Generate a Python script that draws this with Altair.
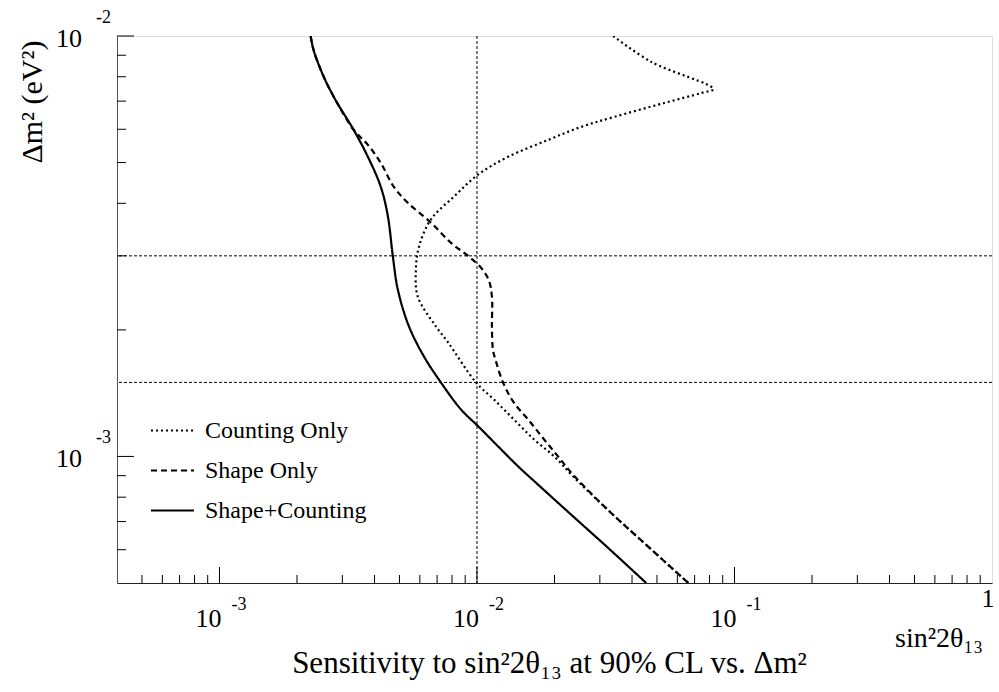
import altair as alt
import pandas as pd

# ---------------- data ----------------
series_names = ["Counting Only", "Shape Only", "Shape+Counting"]

count_x = [3.38e-2, 4.75e-2, 8.28e-2, 7.44e-2, 5.34e-2, 3.41e-2, 2.54e-2, 1.89e-2,
           1.32e-2, 1.01e-2, 8.14e-3, 6.62e-3, 5.95e-3, 5.79e-3, 5.89e-3, 6.92e-3,
           7.71e-3, 9.91e-3, 1.165e-2, 1.39e-2, 1.667e-2, 1.995e-2, 2.38e-2, 3.24e-2,
           4.35e-2, 6.62e-2]
count_y = [1.0e-2, 8.68e-3, 7.48e-3, 7.32e-3, 6.93e-3, 6.42e-3, 6.08e-3, 5.66e-3,
           5.16e-3, 4.68e-3, 4.15e-3, 3.66e-3, 3.15e-3, 2.78e-3, 2.40e-3, 2.04e-3,
           1.87e-3, 1.5e-3, 1.365e-3, 1.225e-3, 1.097e-3, 1.0e-3, 8.92e-4, 7.44e-4,
           6.31e-4, 5.0e-4]

shape_x = [2.26e-3, 2.32e-3, 2.54e-3, 2.82e-3, 3.32e-3, 3.77e-3, 4.23e-3, 4.75e-3,
           5.39e-3, 6.62e-3, 7.93e-3, 9.23e-3, 1.037e-2, 1.11e-2, 1.143e-2, 1.143e-2,
           1.154e-2, 1.186e-2, 1.262e-2, 1.39e-2, 1.579e-2, 1.823e-2, 2.065e-2, 2.38e-2,
           3.24e-2, 4.35e-2, 6.62e-2]
shape_y = [1.0e-2, 9.26e-3, 8.0e-3, 7.05e-3, 5.98e-3, 5.51e-3, 4.99e-3, 4.38e-3,
           4.01e-3, 3.60e-3, 3.22e-3, 3.0e-3, 2.81e-3, 2.63e-3, 2.40e-3, 2.04e-3,
           1.79e-3, 1.68e-3, 1.5e-3, 1.343e-3, 1.225e-3, 1.097e-3, 1.0e-3, 9.0e-4,
           7.44e-4, 6.31e-4, 5.0e-4]

both_x = [2.26e-3, 2.32e-3, 2.54e-3, 2.82e-3, 3.32e-3, 3.77e-3, 4.23e-3, 4.51e-3,
          4.71e-3, 4.93e-3, 5.44e-3, 6.22e-3, 7.24e-3, 8.66e-3, 1.01e-2, 1.207e-2,
          1.445e-2, 1.774e-2, 2.38e-2, 3.24e-2, 4.54e-2]
both_y = [1.0e-2, 9.26e-3, 8.0e-3, 7.05e-3, 5.98e-3, 5.16e-3, 4.38e-3, 3.72e-3,
          3.0e-3, 2.49e-3, 2.04e-3, 1.73e-3, 1.5e-3, 1.294e-3, 1.18e-3, 1.057e-3,
          9.47e-4, 8.44e-4, 7.17e-4, 6.05e-4, 5.0e-4]

vline_x = [1e-2]
hline_y = [3e-3, 1.5e-3]

x_domain = [4.0e-4, 1.0]
y_domain = [5.0e-4, 1.0e-2]

x_major = [1e-3, 1e-2, 1e-1]
x_major_exp = ["-3", "-2", "-1"]
x_minor = [k * 10.0 ** e for e in (-4, -3, -2, -1) for k in range(2, 10)
           if x_domain[0] < k * 10.0 ** e < x_domain[1]]
y_major = [1e-2, 1e-3]
y_major_exp = ["-2", "-3"]
y_minor = [k * 10.0 ** e for e in (-4, -3) for k in range(2, 10)
           if y_domain[0] < k * 10.0 ** e < y_domain[1]]

x_title = "Sensitivity to sin²2θ₁₃ at 90% CL vs. Δm²"
y_title = "Δm² (eV²)"
x_corner = "sin²2θ₁₃"

# ---------------- layout ----------------
W, H = 875, 547
FONT = "Liberation Serif"

rows = []
for name, xs_, ys_ in [(series_names[0], count_x, count_y),
                       (series_names[1], shape_x, shape_y),
                       (series_names[2], both_x, both_y)]:
    for i, (a, b) in enumerate(zip(xs_, ys_)):
        rows.append({"series": name, "x": a, "y": b, "order": i})
df = pd.DataFrame(rows)

xs = alt.Scale(type="log", domain=x_domain, nice=False)
ys = alt.Scale(type="log", domain=y_domain, nice=False)

lines = alt.Chart(df).mark_line(
    color="black", strokeWidth=2.2, clip=True, interpolate="catmull-rom"
).encode(
    x=alt.X("x:Q", scale=xs,
            axis=alt.Axis(labels=False, ticks=False, grid=False, domainColor="#222",
                          title=x_title, titleFont=FONT, titleFontSize=31,
                          titleFontWeight="normal", titleColor="black",
                          titleX=432, titleY=89, titleBaseline="alphabetic",
                          titleAlign="center", titleAnchor="start")),
    y=alt.Y("y:Q", scale=ys,
            axis=alt.Axis(labels=False, ticks=False, grid=False, domainColor="#555",
                          title=y_title, titleFont=FONT, titleFontSize=30,
                          titleFontWeight="normal", titleColor="black",
                          titleAngle=270, titleX=-76, titleY=4,
                          titleAlign="right", titleBaseline="alphabetic",
                          titleAnchor="start")),
    order="order:Q",
    strokeDash=alt.StrokeDash(
        "series:N",
        scale=alt.Scale(domain=series_names, range=[[2, 3], [6, 4], [1, 0]]),
        legend=alt.Legend(orient="none", legendX=33, legendY=372, title=None,
                          symbolType="stroke", symbolSize=1849, symbolStrokeWidth=2,
                          symbolStrokeColor="black", labelFont=FONT, labelFontSize=24,
                          labelColor="black", labelOffset=10, labelLimit=400,
                          rowPadding=5, padding=0)),
)

vrule = alt.Chart(pd.DataFrame({"x": vline_x})).mark_rule(
    color="black", strokeWidth=1, strokeDash=[3, 2]).encode(x=alt.X("x:Q", scale=xs))
hrule = alt.Chart(pd.DataFrame({"y": hline_y})).mark_rule(
    color="black", strokeWidth=1, strokeDash=[3, 2]).encode(y=alt.Y("y:Q", scale=ys))

xmaj = alt.Chart(pd.DataFrame({"x": x_major})).mark_rule(color="black", strokeWidth=1).encode(
    x=alt.X("x:Q", scale=xs), y=alt.value(H), y2=alt.value(H - 16))
xmin = alt.Chart(pd.DataFrame({"x": x_minor})).mark_rule(color="black", strokeWidth=1).encode(
    x=alt.X("x:Q", scale=xs), y=alt.value(H), y2=alt.value(H - 8))
ymaj = alt.Chart(pd.DataFrame({"y": y_major})).mark_rule(color="black", strokeWidth=1).encode(
    y=alt.Y("y:Q", scale=ys), x=alt.value(0), x2=alt.value(17))
ymin = alt.Chart(pd.DataFrame({"y": y_minor})).mark_rule(color="black", strokeWidth=1).encode(
    y=alt.Y("y:Q", scale=ys), x=alt.value(0), x2=alt.value(9))

xlab_df = pd.DataFrame({"x": x_major, "base": ["10"] * len(x_major), "exp": x_major_exp})
xlab = alt.Chart(xlab_df).mark_text(font=FONT, fontSize=26, align="right",
                                    baseline="alphabetic", color="black", dx=2).encode(
    x=alt.X("x:Q", scale=xs), y=alt.value(H + 44), text="base:N")
xexp = alt.Chart(xlab_df).mark_text(font=FONT, fontSize=18, align="left",
                                    baseline="alphabetic", color="black", dx=12).encode(
    x=alt.X("x:Q", scale=xs), y=alt.value(H + 27), text="exp:N")
xone = alt.Chart(pd.DataFrame({"x": [1.0], "t": ["1"]})).mark_text(
    font=FONT, fontSize=26, align="center", baseline="alphabetic", color="black", dx=-4).encode(
    x=alt.X("x:Q", scale=xs), y=alt.value(H + 24), text="t:N")

ylab_df = pd.DataFrame({"y": y_major, "base": ["10"] * len(y_major), "exp": y_major_exp})
ylab = alt.Chart(ylab_df).mark_text(font=FONT, fontSize=26, align="right",
                                    baseline="alphabetic", color="black", dy=11).encode(
    y=alt.Y("y:Q", scale=ys), x=alt.value(-35), text="base:N")
yexp = alt.Chart(ylab_df).mark_text(font=FONT, fontSize=18, align="left",
                                    baseline="alphabetic", color="black", dy=-13).encode(
    y=alt.Y("y:Q", scale=ys), x=alt.value(-21), text="exp:N")

corner = alt.Chart(pd.DataFrame({"t": [x_corner]})).mark_text(
    font=FONT, fontSize=28, align="right", baseline="alphabetic", color="black").encode(
    x=alt.value(866), y=alt.value(H + 64), text="t:N")

chart = alt.layer(
    vrule, hrule, lines, xmaj, xmin, ymaj, ymin, xlab, xexp, xone, ylab, yexp, corner
).properties(
    width=W, height=H,
    autosize=alt.AutoSizeParams(type="none"),
    padding={"left": 117, "top": 36, "right": 7, "bottom": 109},
    background="white",
).configure_view(
    stroke="#555", strokeWidth=1
).configure(font=FONT)

chart.save("out.html", embed_options={"renderer": "svg", "actions": False})
